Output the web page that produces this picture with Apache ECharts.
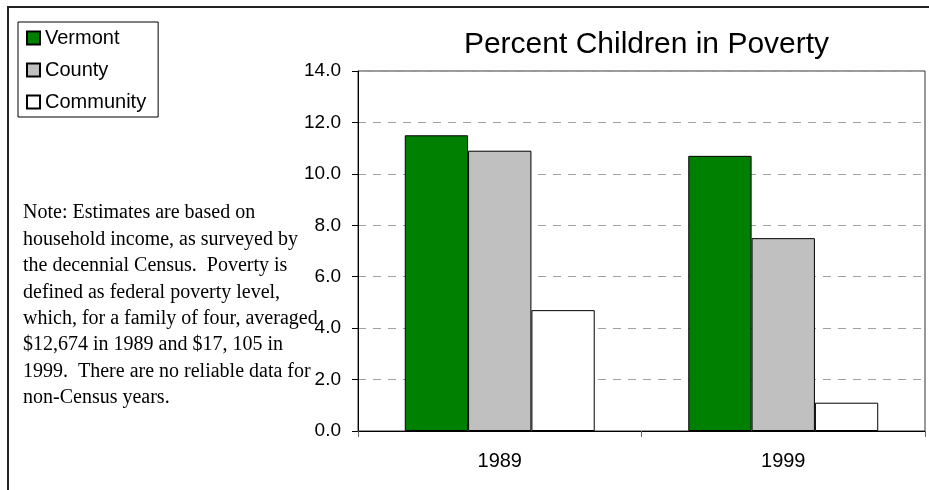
<!DOCTYPE html>
<html>
<head>
<meta charset="utf-8">
<script src="https://cdn.jsdelivr.net/npm/echarts@6/dist/echarts.min.js"></script>
<style>html,body{margin:0;padding:0;background:#fff;}#c{width:929px;height:490px;}</style>
</head>
<body>
<div id="c"></div>
<script>
const categories = ['1989', '1999'];
const seriesNames = ['Vermont', 'County', 'Community'];
const vermont = [11.5, 10.7];
const county = [10.9, 7.5];
const community = [4.7, 1.1];
const yTicks = [0, 2, 4, 6, 8, 10, 12, 14];
const titleText = 'Percent Children in Poverty';
const noteLines = [
  'Note: Estimates are based on',
  'household income, as surveyed by',
  'the decennial Census.  Poverty is',
  'defined as federal poverty level,',
  'which, for a family of four, averaged',
  '$12,674 in 1989 and $17, 105 in',
  '1999.  There are no reliable data for',
  'non-Census years.'
];
const colors = ['#008000', '#c0c0c0', '#ffffff'];
const values = [vermont, county, community];

const chart = echarts.init(document.getElementById('c'), null, {renderer: 'canvas'});
const sans = '"Liberation Sans", Arial, sans-serif';
chart.setOption({
  animation: false,
  backgroundColor: '#fff',
  title: {
    text: titleText,
    left: 641.5, top: 25, textAlign: 'center',
    textStyle: {fontFamily: sans, fontSize: 30, fontWeight: 'normal', color: '#000'}
  },
  legend: {
    orient: 'vertical', left: 18, top: 22,
    padding: [6, 12, 5, 8], itemGap: 12,
    itemWidth: 13, itemHeight: 13, icon: 'rect',
    borderColor: '#000', borderWidth: 1, backgroundColor: '#fff',
    textStyle: {fontFamily: sans, fontSize: 20, lineHeight: 20, color: '#000', padding: [0,0,0,0]},
    data: seriesNames
  },
  grid: {left: 358, right: 4, top: 71, bottom: 59, show: true, borderColor: '#333', borderWidth: 1},
  xAxis: {
    type: 'category', data: categories,
    axisLine: {lineStyle: {color: '#000', width: 1}},
    axisTick: {show: true, length: 6, lineStyle: {color: '#666'}},
    axisLabel: {fontFamily: sans, fontSize: 20, color: '#000', margin: 20}
  },
  yAxis: {
    type: 'value', min: yTicks[0], max: yTicks[yTicks.length - 1], interval: yTicks[1] - yTicks[0],
    axisLine: {show: true, lineStyle: {color: '#000', width: 1}},
    axisTick: {show: true, length: 6, lineStyle: {color: '#000'}},
    axisLabel: {fontFamily: sans, fontSize: 19, color: '#000', margin: 17, formatter: v => v.toFixed(1)},
    splitLine: {show: true, lineStyle: {color: '#a0a0a0', type: [8, 7], width: 1}}
  },
  series: seriesNames.map((n, i) => ({
    name: n, type: 'bar', data: values[i],
    barGap: '0%', barCategoryGap: '33%',
    itemStyle: {color: colors[i], borderColor: '#000', borderWidth: 1}
  })),
  graphic: [
    {type: 'polyline', shape: {points: [[8, 490], [8, 7], [929, 7]]}, style: {stroke: '#222', lineWidth: 2, fill: null}, silent: true},
    {type: 'text', left: 23, top: 200, style: {text: noteLines.join('\n'), font: '20px "Liberation Serif", "Times New Roman", serif', lineHeight: 26.4, fill: '#000'}}
  ]
});
</script>
</body>
</html>
